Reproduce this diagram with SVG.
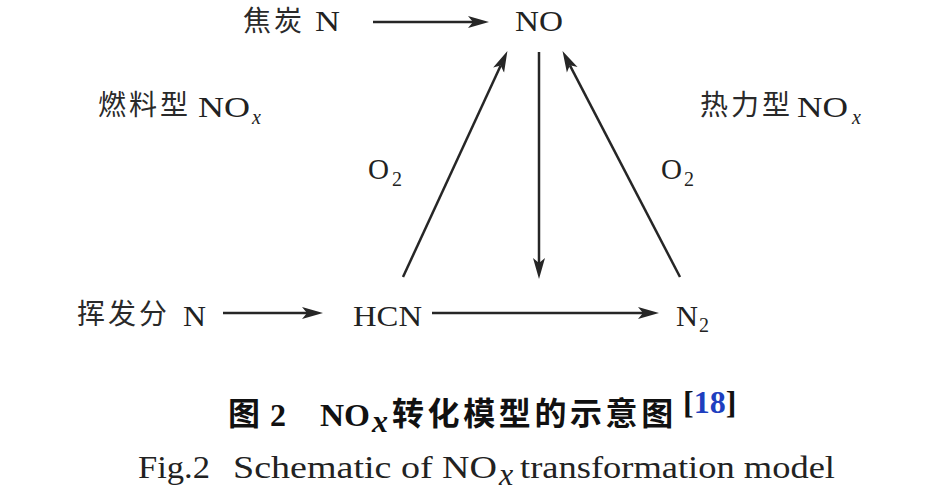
<svg xmlns="http://www.w3.org/2000/svg" width="945" height="494" viewBox="0 0 945 494">
<style>
.bg{fill:#ffffff}
.cjk{font-family:"Noto Sans CJK SC","Noto Sans CJK JP",sans-serif;font-size:28px;fill:#2a2a2a;letter-spacing:3px}
.lat{font-family:"Liberation Serif","Times New Roman",serif;font-size:30px;fill:#222}
.sub{font-family:"Liberation Serif","Times New Roman",serif;font-size:20px;fill:#222}
.subx{font-family:"Liberation Serif","Times New Roman",serif;font-size:20px;font-style:italic;fill:#222}
.cap1{font-family:"Noto Sans CJK SC","Noto Sans CJK JP",sans-serif;font-size:32px;font-weight:bold;fill:#111}
.cap1l{font-family:"Liberation Serif","Times New Roman",serif;font-size:32px;font-weight:bold;fill:#111}
.cap2{font-family:"Liberation Serif","Times New Roman",serif;font-size:32px;fill:#222}
.conn line{stroke:#262626;stroke-width:2.5;fill:none;marker-end:url(#ah)}
</style>
<defs>
<marker id="ah" markerUnits="userSpaceOnUse" markerWidth="22" markerHeight="14" viewBox="0 0 22 14" refX="5" refY="7" orient="auto">
<path d="M0,1 L21,7 L0,13 L5,7 Z" fill="#262626"/>
</marker>
</defs>
<rect class="bg" x="0" y="0" width="945" height="494"/>
<g id="connectors" class="conn">
<line x1="373" y1="22" x2="473" y2="22"/>
<line x1="223" y1="313" x2="307" y2="313"/>
<line x1="432" y1="313" x2="643" y2="313"/>
<line x1="539" y1="52" x2="539" y2="263"/>
<line x1="403" y1="277" x2="500.7" y2="65.6"/>
<line x1="680" y1="277" x2="569.9" y2="65.3"/>
</g>
<g id="node-coke-n">
<text class="cjk" x="243" y="31">焦炭</text>
<text class="lat" x="315" y="31" textLength="25" lengthAdjust="spacingAndGlyphs">N</text>
</g>
<g id="node-no">
<text class="lat" x="515" y="31" textLength="48" lengthAdjust="spacingAndGlyphs">NO</text>
</g>
<g id="label-fuel-nox">
<text class="cjk" x="98" y="115">燃料型</text>
<text class="lat" x="198" y="117" textLength="52" lengthAdjust="spacingAndGlyphs">NO</text>
<text class="subx" x="252" y="124">x</text>
</g>
<g id="label-thermal-nox">
<text class="cjk" x="700" y="115">热力型</text>
<text class="lat" x="797" y="117" textLength="51" lengthAdjust="spacingAndGlyphs">NO</text>
<text class="subx" x="852" y="124">x</text>
</g>
<g id="label-o2-left">
<text class="lat" x="368" y="179" textLength="21" lengthAdjust="spacingAndGlyphs">O</text>
<text class="sub" x="392" y="186">2</text>
</g>
<g id="label-o2-right">
<text class="lat" x="661" y="179" textLength="21" lengthAdjust="spacingAndGlyphs">O</text>
<text class="sub" x="684" y="186">2</text>
</g>
<g id="node-volatile-n">
<text class="cjk" x="77" y="324" letter-spacing="5">挥发分</text>
<text class="lat" x="183" y="326" textLength="23" lengthAdjust="spacingAndGlyphs">N</text>
</g>
<g id="node-hcn">
<text class="lat" x="353" y="326" textLength="69" lengthAdjust="spacingAndGlyphs">HCN</text>
</g>
<g id="node-n2">
<text class="lat" x="676" y="326" textLength="22" lengthAdjust="spacingAndGlyphs">N</text>
<text class="sub" x="699" y="332">2</text>
</g>
<g id="caption-cn">
<text class="cap1" x="228" y="425">图</text>
<text class="cap1l" x="270" y="426">2</text>
<text class="cap1l" x="320" y="426" textLength="50" lengthAdjust="spacingAndGlyphs">NO</text>
<text class="cap1l" x="372" y="432" font-size="21" font-style="italic">x</text>
<text class="cap1" x="392" y="425" letter-spacing="3.6">转化模型的示意图</text>
<text class="cap1l" x="683" y="413" font-size="19">[<tspan fill="#1f3fbf">18</tspan>]</text>
</g>
<g id="caption-en">
<text class="cap2" x="138" y="478" textLength="72" lengthAdjust="spacingAndGlyphs">Fig.2</text>
<text class="cap2" x="233" y="478" textLength="264" lengthAdjust="spacingAndGlyphs">Schematic of NO</text>
<text class="cap2" x="499" y="485" font-size="21" font-style="italic">x</text>
<text class="cap2" x="520" y="478" textLength="315" lengthAdjust="spacingAndGlyphs">transformation model</text>
</g>
</svg>
